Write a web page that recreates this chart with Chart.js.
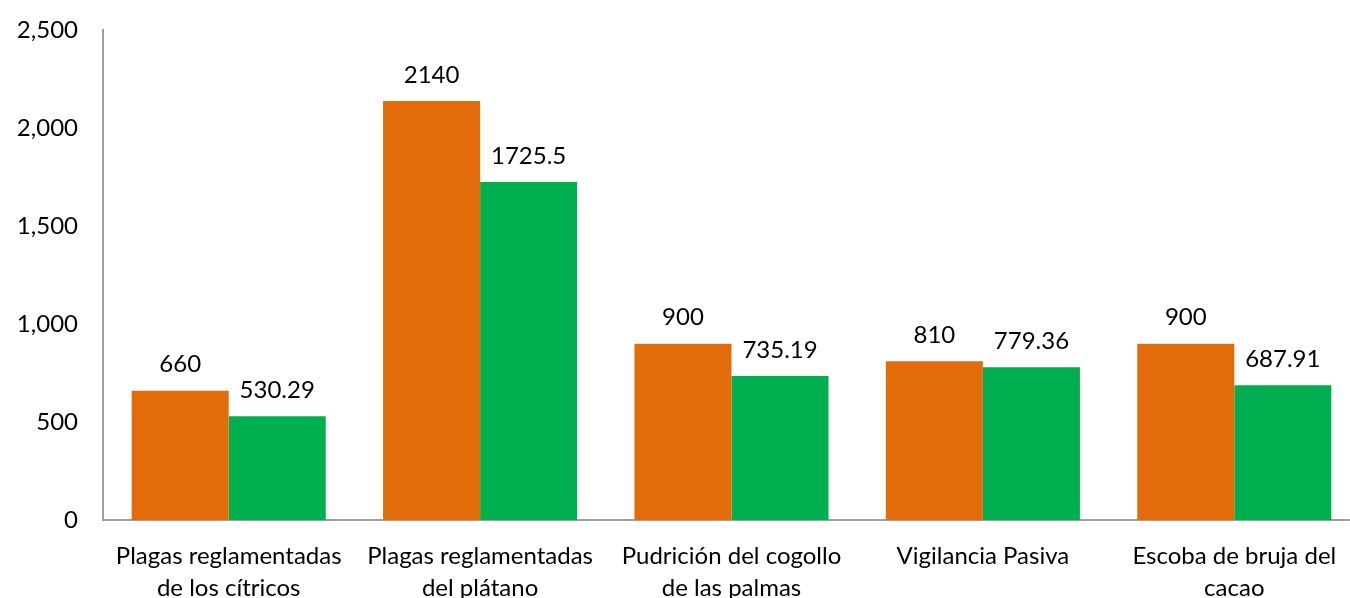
<!DOCTYPE html>
<html>
<head>
<meta charset="utf-8">
<script src="https://cdn.jsdelivr.net/npm/chart.js@4"></script>
<style>
html,body{margin:0;padding:0;background:#fff;overflow:hidden;width:1350px;height:598px;}
#wrap{width:1360px;height:607px;position:relative;margin-top:-9px;}
</style>
</head>
<body>
<div id="wrap"><canvas id="c"></canvas></div>
<script>
const categories = [
  ["Plagas reglamentadas", "de los cítricos"],
  ["Plagas reglamentadas", "del plátano"],
  ["Pudrición del cogollo", "de las palmas"],
  ["Vigilancia Pasiva"],
  ["Escoba de bruja del", "cacao"]
];
const seriesA = [660, 2140, 900, 810, 900];
const seriesB = [530.29, 1725.5, 735.19, 779.36, 687.91];
const labelsA = ["660", "2140", "900", "810", "900"];
const labelsB = ["530.29", "1725.5", "735.19", "779.36", "687.91"];
const yTicks = [0, 500, 1000, 1500, 2000, 2500];

const FONT = "Lato, 'Open Sans', sans-serif";
const FS = 24;

const valueLabels = {
  id: 'valueLabels',
  afterDatasetsDraw(chart) {
    const ctx = chart.ctx;
    const texts = [labelsA, labelsB];
    ctx.save();
    ctx.font = FS + "px " + FONT;
    ctx.fillStyle = "#000";
    ctx.textAlign = "center";
    ctx.textBaseline = "middle";
    chart.data.datasets.forEach((ds, i) => {
      chart.getDatasetMeta(i).data.forEach((bar, j) => {
        ctx.fillText(texts[i][j], bar.x, bar.y - 26);
      });
    });
    ctx.restore();
  }
};

new Chart(document.getElementById('c'), {
  type: 'bar',
  data: {
    labels: categories,
    datasets: [
      { label: 'A', data: seriesA, backgroundColor: '#E36C0A', categoryPercentage: 0.772, barPercentage: 1.0 },
      { label: 'B', data: seriesB, backgroundColor: '#00B050', categoryPercentage: 0.772, barPercentage: 1.0 }
    ]
  },
  options: {
    responsive: true,
    maintainAspectRatio: false,
    animation: false,
    layout: { padding: { top: 22, right: 0, left: 0, bottom: 0 } },
    plugins: { legend: { display: false }, tooltip: { enabled: false } },
    scales: {
      x: {
        grid: { display: false, drawTicks: false },
        border: { display: true, color: '#A0A0A0', width: 2 },
        ticks: { color: '#000', font: { family: FONT, size: FS, lineHeight: 1.35 }, padding: 20, maxRotation: 0, autoSkip: false },
        afterFit(scale) { scale.height = 78; }
      },
      y: {
        min: 0, max: 2500,
        afterBuildTicks(scale) { scale.ticks = yTicks.map(v => ({ value: v })); },
        grid: { display: false, drawTicks: false },
        border: { display: true, color: '#A0A0A0', width: 2 },
        ticks: {
          color: '#000', font: { family: FONT, size: FS }, padding: 25,
          callback: (v) => v.toLocaleString('en-US')
        },
        afterFit(scale) { scale.width = 103; }
      }
    }
  },
  plugins: [valueLabels]
});
</script>
</body>
</html>
